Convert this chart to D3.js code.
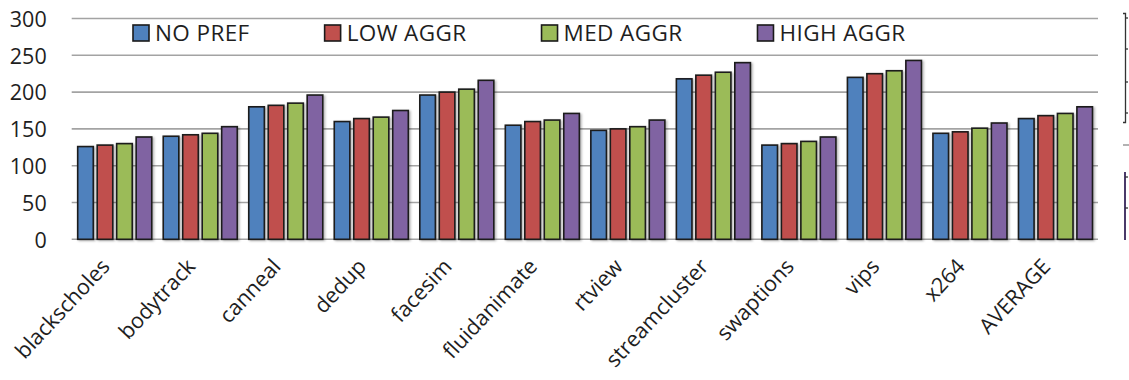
<!DOCTYPE html>
<html>
<head>
<meta charset="utf-8">
<script src="https://cdn.jsdelivr.net/npm/d3@7"></script>
<style>
  html, body { margin: 0; padding: 0; background: #fff; }
  svg { display: block; }
  text { font-family: "Open Sans", "Noto Sans", sans-serif; fill: #1e1e1e; }
</style>
</head>
<body>
<svg id="chart" width="1129" height="380"></svg>
<script>
// Benchmarks on the category axis
const categories = ["blackscholes", "bodytrack", "canneal", "dedup", "facesim", "fluidanimate",
  "rtview", "streamcluster", "swaptions", "vips", "x264", "AVERAGE"];

// One value per benchmark for each prefetcher setting
const noPref   = [126, 140, 180, 160, 196, 155, 148, 218, 128, 220, 144, 164];
const lowAggr  = [128, 142, 182, 164, 200, 160, 150, 223, 130, 225, 146, 168];
const medAggr  = [130, 144, 185, 166, 204, 162, 153, 227, 133, 229, 151, 171];
const highAggr = [139, 153, 196, 175, 216, 171, 162, 240, 139, 243, 158, 180];

const seriesNames  = ["NO PREF", "LOW AGGR", "MED AGGR", "HIGH AGGR"];
const seriesColors = ["#4F81BD", "#C0504D", "#9BBB59", "#8064A2"];
const yTicks = [0, 50, 100, 150, 200, 250, 300];

const seriesValues = [noPref, lowAggr, medAggr, highAggr];

const svg = d3.select("#chart");
const plot = { left: 71.7, right: 1098, top: 18.5, bottom: 239.3 };

const x0 = d3.scaleBand().domain(categories).range([plot.left, plot.right]).padding(0);
const x1 = d3.scaleBand().domain(seriesNames)
  .range([6, x0.bandwidth() - 5.5]).paddingInner(0.2).paddingOuter(0);
const y = d3.scaleLinear().domain([0, 300]).range([plot.bottom, plot.top]);

// soft shadow under the bars
const defs = svg.append("defs");
const f = defs.append("filter").attr("id", "shadow")
  .attr("x", "-20%").attr("y", "-5%").attr("width", "150%").attr("height", "120%");
f.append("feDropShadow").attr("dx", 1.5).attr("dy", 1).attr("stdDeviation", 0.8)
  .attr("flood-color", "#000").attr("flood-opacity", 0.3);

// horizontal gridlines
svg.append("g")
  .selectAll("line").data(yTicks).join("line")
  .attr("x1", plot.left).attr("x2", plot.right)
  .attr("y1", d => y(d)).attr("y2", d => y(d))
  .attr("stroke", "#a3a3a3").attr("stroke-width", 1.6);

// y tick labels
const yAxis = d3.axisLeft(y).tickValues(yTicks).tickSize(0).tickPadding(0);
const yg = svg.append("g").attr("transform", `translate(${plot.left - 25},0)`).call(yAxis);
yg.select(".domain").remove();
yg.selectAll("text")
  .attr("font-size", 21.5).attr("font-family", null).attr("fill", "#1e1e1e").attr("dy", "0.36em");

// grouped bars
const groups = svg.append("g").selectAll("g").data(categories).join("g")
  .attr("transform", d => `translate(${x0(d)},0)`);
groups.selectAll("rect")
  .data((c, i) => seriesNames.map((s, k) => ({ s, k, v: seriesValues[k][i] })))
  .join("rect")
  .attr("x", d => x1(d.s))
  .attr("width", x1.bandwidth())
  .attr("y", d => y(d.v))
  .attr("height", d => y(0) - y(d.v))
  .attr("fill", d => seriesColors[d.k])
  .attr("stroke", "#1a1a1a").attr("stroke-width", 1.6)
  .attr("filter", "url(#shadow)");

// rotated category labels
const xg = svg.append("g");
xg.selectAll("text").data(categories).join("text")
  .attr("transform", d => `translate(${x0(d) + x0.bandwidth() / 2 - 9},${plot.bottom + 23}) rotate(-47)`)
  .attr("text-anchor", "end")
  .attr("dy", "0.35em")
  .attr("font-size", 21.5)
  .text(d => d);

// legend across the top band of the plot
const legend = svg.append("g");
let lx = 133;
seriesNames.forEach((name, k) => {
  const item = legend.append("g").attr("transform", `translate(${lx},0)`);
  item.append("rect")
    .attr("x", 0).attr("y", 25).attr("width", 16).attr("height", 16)
    .attr("fill", seriesColors[k]).attr("stroke", "#1a1a1a").attr("stroke-width", 1.6);
  const t = item.append("text")
    .attr("x", 22).attr("y", 33).attr("dy", "0.36em")
    .attr("font-size", 22.5).attr("letter-spacing", 0.4).text(name);
  lx += 22 + t.node().getComputedTextLength() + 75;
});

// edge of the neighbouring panel on the right
const edge = svg.append("g").attr("stroke", "#333").attr("stroke-width", 1.3).attr("fill", "none");
edge.append("path").attr("d", "M1123,13.5 H1125.5 V122.5 H1123");
[18, 49, 82, 113].forEach(t => edge.append("line").attr("x1", 1125.5).attr("x2", 1128).attr("y1", t).attr("y2", t));
edge.append("line").attr("x1", 1123).attr("x2", 1129).attr("y1", 145).attr("y2", 145).attr("stroke", "#888");
edge.append("line").attr("x1", 1125).attr("x2", 1125).attr("y1", 172).attr("y2", 240)
  .attr("stroke", "#4a3a6a").attr("stroke-width", 2);
[177, 208].forEach(t => edge.append("line").attr("x1", 1125).attr("x2", 1128).attr("y1", t).attr("y2", t));
</script>
</body>
</html>
